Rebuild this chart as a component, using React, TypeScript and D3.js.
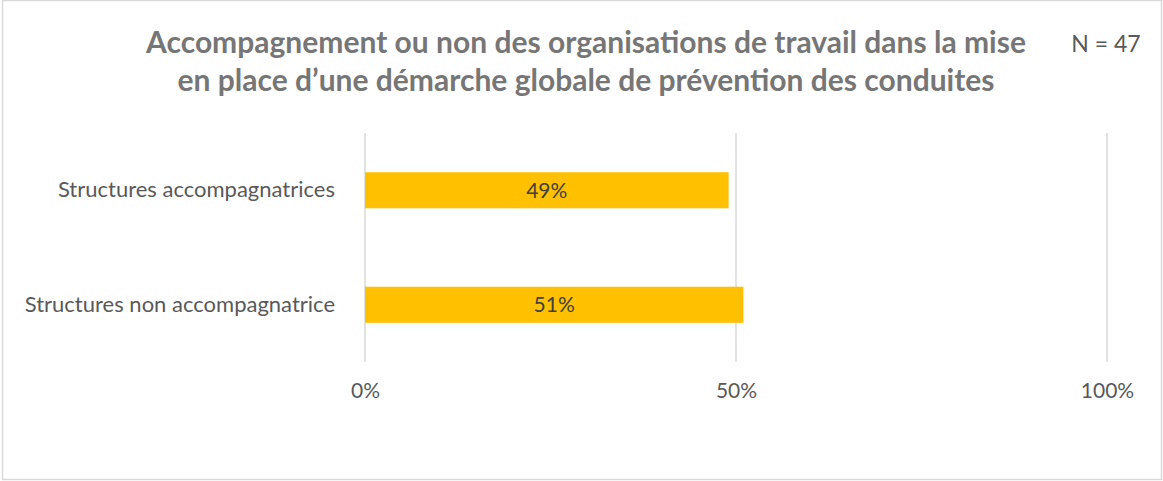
import React, { useEffect, useRef } from 'react';
import * as d3 from 'd3';

// chart data
const categories = ['Structures accompagnatrices', 'Structures non accompagnatrice'];
const values = [0.49, 0.51];
const tickValues = [0, 0.5, 1];
const titleLines = [
  'Accompagnement ou non des organisations de travail dans la mise',
  'en place d\u2019une démarche globale de prévention des conduites',
];
const sampleNote = 'N = 47';

const WIDTH = 1163;
const HEIGHT = 481;
const FONT = 'Lato, "Open Sans", sans-serif';

export default function App() {
  const svgRef = useRef<SVGSVGElement>(null);

  useEffect(() => {
    const root = d3.select(svgRef.current);
    root.selectAll('*').remove();

    // outer frame
    root.append('rect')
      .attr('x', 2.5).attr('y', 0.5)
      .attr('width', 1159).attr('height', 479)
      .attr('fill', '#fff')
      .attr('stroke', '#d9d9d9')
      .attr('stroke-width', 1.5);

    // title
    root.append('text')
      .attr('text-anchor', 'middle')
      .attr('font-family', FONT)
      .attr('font-weight', 700)
      .attr('font-size', 30)
      .attr('fill', '#767676')
      .selectAll('tspan')
      .data(titleLines)
      .enter()
      .append('tspan')
      .attr('x', 586)
      .attr('y', (d, i) => 53 + i * 38)
      .text((d) => d);

    root.append('text')
      .attr('x', 1106)
      .attr('y', 52)
      .attr('text-anchor', 'middle')
      .attr('font-family', FONT)
      .attr('font-size', 23)
      .attr('fill', '#595959')
      .text(sampleNote);

    const x = d3.scaleLinear().domain([0, 1]).range([365, 1107]);
    const y = d3.scaleBand<string>()
      .domain(categories)
      .range([133, 362])
      .paddingInner(0.685)
      .paddingOuter(0.3425);

    // gridlines
    root.append('g')
      .selectAll('line')
      .data(tickValues)
      .enter()
      .append('line')
      .attr('x1', (d) => x(d))
      .attr('x2', (d) => x(d))
      .attr('y1', 133)
      .attr('y2', 362)
      .attr('stroke', '#d9d9d9')
      .attr('stroke-width', 1.5);

    // x axis labels
    const xAxis = root.append('g')
      .attr('transform', 'translate(0,362)')
      .call(d3.axisBottom(x).tickValues(tickValues).tickSize(0).tickPadding(21)
        .tickFormat(d3.format('.0%')));
    xAxis.select('.domain').remove();
    xAxis.selectAll('text')
      .attr('font-family', FONT)
      .attr('font-size', 21)
      .attr('fill', '#595959');

    // y axis labels
    const yAxis = root.append('g')
      .attr('transform', 'translate(365,0)')
      .call(d3.axisLeft(y).tickSize(0).tickPadding(30));
    yAxis.select('.domain').remove();
    yAxis.selectAll('text')
      .attr('font-family', FONT)
      .attr('font-size', 22)
      .attr('fill', '#595959');

    // bars
    root.append('g')
      .selectAll('rect')
      .data(values)
      .enter()
      .append('rect')
      .attr('x', x(0))
      .attr('y', (d, i) => y(categories[i]) as number)
      .attr('width', (d) => x(d) - x(0))
      .attr('height', y.bandwidth())
      .attr('fill', '#FFC000');

    // data labels
    root.append('g')
      .selectAll('text')
      .data(values)
      .enter()
      .append('text')
      .attr('x', (d) => (x(0) + x(d)) / 2)
      .attr('y', (d, i) => (y(categories[i]) as number) + y.bandwidth() / 2)
      .attr('dy', '0.35em')
      .attr('text-anchor', 'middle')
      .attr('font-family', FONT)
      .attr('font-size', 21)
      .attr('fill', '#404040')
      .text((d) => d3.format('.0%')(d));
  }, []);

  return (
    <div style={{ position: 'absolute', left: 0, top: 0 }}>
      <svg ref={svgRef} width={WIDTH} height={HEIGHT} style={{ display: 'block' }} />
    </div>
  );
}
